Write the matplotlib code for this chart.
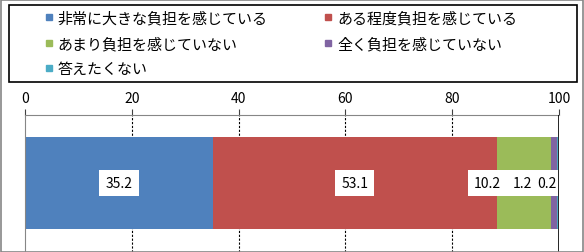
import matplotlib.pyplot as plt
from matplotlib.patches import Rectangle
from matplotlib.lines import Line2D

plt.rcParams['font.family'] = ['Noto Sans CJK JP', 'DejaVu Sans']

categories = ["非常に大きな負担を感じている", "ある程度負担を感じている",
              "あまり負担を感じていない", "全く負担を感じていない", "答えたくない"]
values = [35.2, 53.1, 10.2, 1.2, 0.2]
label_texts = ["35.2", "53.1", "10.2", "1.2", "0.2"]
colors = ["#4F81BD", "#C0504D", "#9BBB59", "#8064A2", "#4BACC6"]
ticks = [0, 20, 40, 60, 80, 100]

# manual shifts of the small labels (as in the original, they are pushed apart)
label_shift = [0, 0, -6.8, -5.9, -2.0]

W, H = 584, 253
fig = plt.figure(figsize=(W / 100, H / 100), dpi=100)

# outer border of the picture
fig.patches.append(Rectangle((0.5 / W, 0.5 / H), 1 - 1.5 / W, 1 - 1.5 / H,
                             transform=fig.transFigure, fill=False,
                             edgecolor="#868686", linewidth=1.2))

ax = fig.add_axes([25 / W, 0, (559 - 25) / W, (H - 115.7) / H])

left = 0
for i in range(len(values)):
    ax.barh(0, values[i], left=left, height=0.672, color=colors[i], linewidth=0)
    cx = left + values[i] / 2 + label_shift[i]
    ax.text(cx, 0.0, label_texts[i], ha="center", va="center", fontsize=10,
            bbox=dict(boxstyle="square,pad=0.45", facecolor="white", edgecolor="none"))
    left += values[i]

ax.set_xlim(0, 100)
ax.set_ylim(0.503, -0.497)
ax.set_yticks([])
ax.set_xticks(ticks)
ax.xaxis.tick_top()
ax.tick_params(axis="x", direction="out", length=4, color="#404040",
               labelsize=10, pad=3)

for t in ticks[1:-1]:
    ax.axvline(t, color="black", linestyle=(0, (2, 1.5)), linewidth=0.8, zorder=0.5)
ax.axvline(100, color="black", linewidth=1.2, zorder=3)

for s in ["bottom", "right"]:
    ax.spines[s].set_visible(False)
ax.spines["top"].set_color("#868686")
ax.spines["left"].set_color("#868686")

# legend with its own frame
fig.patches.append(Rectangle((9 / W, 1 - 83 / H), 568 / W, 77 / H,
                             transform=fig.transFigure, fill=False,
                             edgecolor="black", linewidth=1.2))
handles = [Line2D([], [], linestyle="none", marker="s", markersize=5,
                  markerfacecolor=c, markeredgecolor=c) for c in colors]
order = [0, 2, 4, 1, 3]
fig.legend([handles[i] for i in order], [categories[i] for i in order],
           ncol=2, loc="upper left", bbox_to_anchor=(38 / W, 1 - 6 / H),
           frameon=False, fontsize=10.8, handlelength=0.6, handletextpad=0.3,
           columnspacing=3.75, labelspacing=0.73, borderaxespad=0)

fig.savefig("out.png", dpi=100)
